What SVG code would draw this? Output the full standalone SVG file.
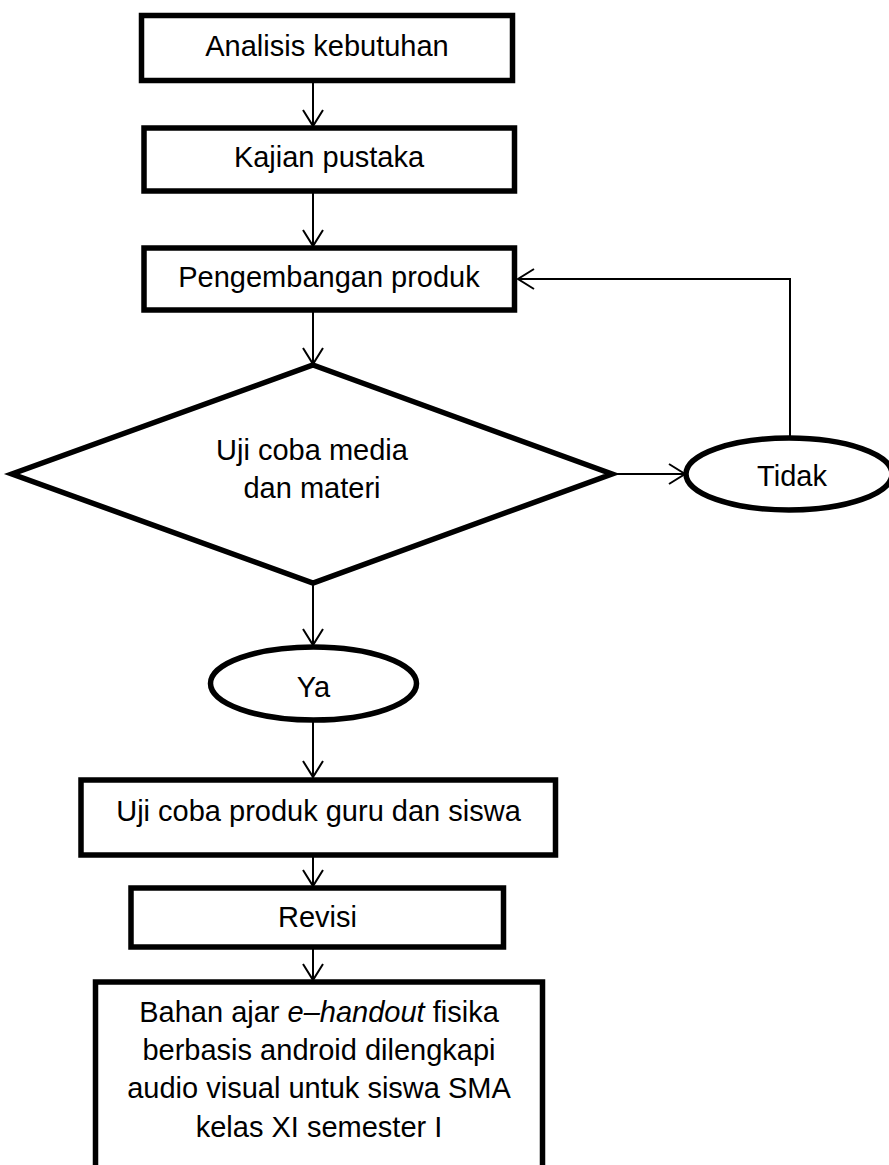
<svg xmlns="http://www.w3.org/2000/svg" width="889" height="1165" viewBox="0 0 889 1165">
<defs>
<style>
.box{fill:#fff;stroke:#000;stroke-width:5.5}
.con{fill:none;stroke:#000;stroke-width:2}
.t{font-family:"Liberation Sans",Arial,sans-serif;font-size:29px;fill:#000;text-anchor:middle}
</style>
<marker id="ah" viewBox="-18 -12 20 24" refX="0" refY="0" markerWidth="20" markerHeight="24" markerUnits="userSpaceOnUse" orient="auto">
<path d="M-16,-10 L0,0 L-16,10" fill="none" stroke="#000" stroke-width="2"/>
</marker>
</defs>
<rect width="889" height="1165" fill="#fff"/>
<g id="connectors">
<line class="con" x1="313" y1="80" x2="313" y2="126" marker-end="url(#ah)"/>
<line class="con" x1="313" y1="192" x2="313" y2="246" marker-end="url(#ah)"/>
<line class="con" x1="313" y1="311" x2="313" y2="364" marker-end="url(#ah)"/>
<line class="con" x1="313" y1="583" x2="313" y2="645" marker-end="url(#ah)"/>
<line class="con" x1="313" y1="720" x2="313" y2="777" marker-end="url(#ah)"/>
<line class="con" x1="313" y1="855" x2="313" y2="886" marker-end="url(#ah)"/>
<line class="con" x1="313" y1="947" x2="313" y2="980" marker-end="url(#ah)"/>
<line class="con" x1="612" y1="474" x2="685" y2="474" marker-end="url(#ah)"/>
<polyline class="con" points="790,438 790,279 518,279" marker-end="url(#ah)"/>
</g>
<g id="n1">
<rect class="box" x="141.5" y="15.5" width="371" height="65"/>
<text class="t" x="327" y="56">Analisis kebutuhan</text>
</g>
<g id="n2">
<rect class="box" x="144" y="128" width="370.5" height="63"/>
<text class="t" x="329" y="167">Kajian pustaka</text>
</g>
<g id="n3">
<rect class="box" x="144" y="248" width="370.5" height="62"/>
<text class="t" x="329" y="287">Pengembangan produk</text>
</g>
<g id="n4">
<polygon class="box" points="313,365 612,474 313,583 12,474"/>
<text class="t" x="312" y="460">Uji coba media</text>
<text class="t" x="312" y="498">dan materi</text>
</g>
<g id="n5">
<ellipse class="box" cx="789" cy="474" rx="103" ry="36"/>
<text class="t" x="792" y="486">Tidak</text>
</g>
<g id="n6">
<ellipse class="box" cx="313.5" cy="683.5" rx="103" ry="36.5"/>
<text class="t" x="313.5" y="697">Ya</text>
</g>
<g id="n7">
<rect class="box" x="81" y="780" width="474.5" height="75"/>
<text class="t" x="318.5" y="821">Uji coba produk guru dan siswa</text>
</g>
<g id="n8">
<rect class="box" x="131" y="888" width="372.5" height="59"/>
<text class="t" x="317.5" y="927">Revisi</text>
</g>
<g id="n9">
<rect class="box" x="95.5" y="982" width="447" height="200"/>
<text class="t" x="319" y="1022">Bahan ajar <tspan font-style="italic">e–handout</tspan> fisika</text>
<text class="t" x="319" y="1060">berbasis android dilengkapi</text>
<text class="t" x="319" y="1098">audio visual untuk siswa SMA</text>
<text class="t" x="319" y="1137">kelas XI semester I</text>
</g>
</svg>
